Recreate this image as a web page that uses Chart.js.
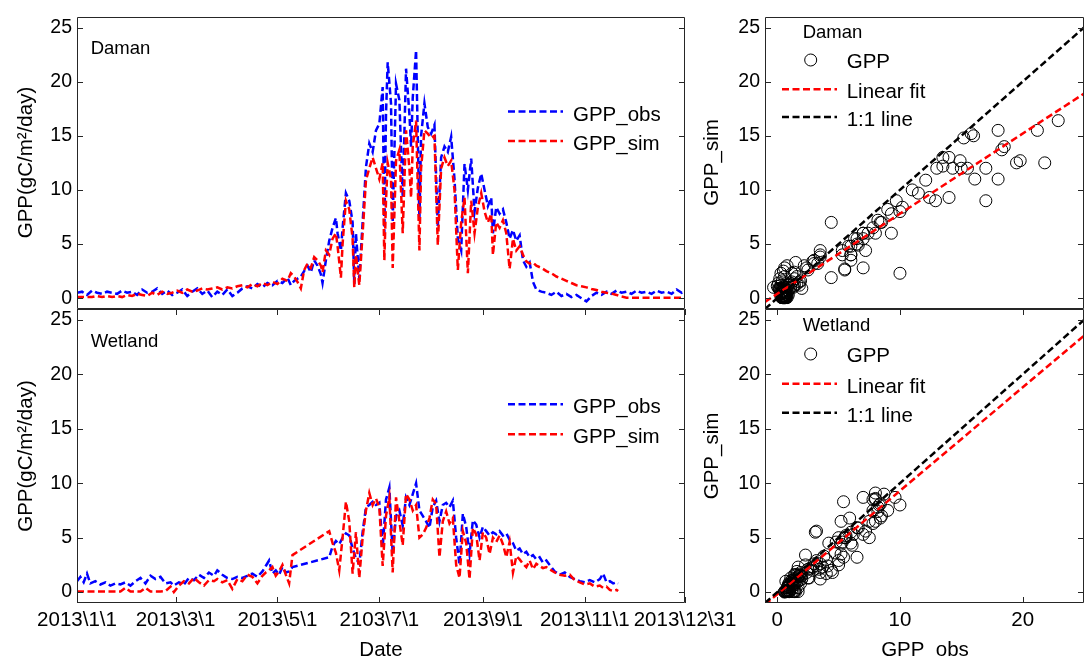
<!DOCTYPE html>
<html><head><meta charset="utf-8">
<script src="https://cdn.jsdelivr.net/npm/chart.js@4.4.1/dist/chart.umd.min.js"></script>
<style>
html,body{margin:0;padding:0;background:#fff;width:1085px;height:656px;overflow:hidden}
canvas{position:absolute;left:0;top:0}
</style></head><body>
<canvas id="c1" width="1085" height="656"></canvas>
<canvas id="c2" width="1085" height="656"></canvas>
<canvas id="c3" width="1085" height="656"></canvas>
<canvas id="c4" width="1085" height="656"></canvas>
<script>
// ---------------- data ----------------
const dayDaman = [0,3,6,9,12,15,18,21,24,27,30,33,36,39,42,45,48,51,54,57,60,63,66,69,72,75,78,81,84,87,90,93,96,99,102,105,108,111,114,117,120,123,126,128,130,
132,134,136,138,140,142,144,146,147,149,151,153,155,156,158,159,161,163,165,166,167,169,171,173,175,177,179,181,183,184,185,186,188,189,191,193,195,197,199,200,201,203,205,206,208,210,212,214,216,218,220,222,224,
226,228,230,232,234,236,238,240,242,244,246,248,249,251,253,255,257,259,261,263,265,267,269,271,273,275,
278,281,284,287,290,293,296,299,302,305,308,311,314,317,320,323,326,329,332,335,338,341,344,347,350,353,356,359,362,364];
const obsDaman = [0.5,0.6,0.3,0.7,0.5,0.4,0.6,0.5,0.4,0.7,0.5,0.6,0.3,0.8,0.5,0.6,0.9,0.4,0.7,0.3,0.5,0.8,0.2,0.6,0.9,0.4,0.7,0.1,0.6,0.3,0.8,0.2,0.5,0.9,1.1,0.9,1.3,1.0,1.4,1.2,1.6,1.4,1.9,1.2,1.6,
1.8,2.0,2.5,3.0,2.4,3.5,3.0,2.2,1.4,3.5,5.3,6.5,7.4,6.0,4.4,6.5,9.7,9.0,7.0,1.3,6.0,1.8,7.0,12.1,14.3,13.5,15.5,16.1,19.5,6.0,17.0,21.8,18.0,7.0,19.8,18.3,9.3,21.2,17.0,14.0,18.5,22.9,7.2,15.0,18.0,15.8,15.2,16.0,6.6,13.0,14.0,13.5,14.9,
11.0,5.5,4.4,12.4,10.0,12.9,8.0,10.2,11.5,10.0,8.5,9.3,6.0,8.4,7.8,8.2,7.0,5.5,6.3,5.3,5.8,3.5,2.9,3.3,1.5,0.8,
0.6,0.5,0.3,0.6,0.2,0.4,0.1,0.3,0.0,-0.3,0.2,0.5,0.3,0.6,0.4,0.7,0.5,0.6,0.4,0.7,0.5,0.6,0.4,0.7,0.5,0.6,0.4,0.8,0.5,0.7];
const simDaman = [0.1,0.1,0.1,0.1,0.2,0.1,0.2,0.1,0.2,0.1,0.3,0.2,0.4,0.3,0.2,0.5,0.3,0.6,0.4,0.5,0.7,0.5,0.8,0.6,0.7,0.9,0.8,0.9,1.0,0.8,1.0,0.9,1.1,1.2,1.0,1.3,1.1,1.4,1.2,1.5,1.3,1.8,1.6,2.3,2.0,
1.5,0.9,2.6,3.2,2.8,3.8,3.5,3.0,2.4,4.4,4.0,5.5,6.0,4.8,1.9,5.0,9.0,8.2,5.5,1.0,4.0,1.2,6.0,10.9,12.0,13.0,12.0,11.0,12.5,3.5,9.0,12.5,11.0,2.8,12.7,13.7,6.0,15.5,12.0,9.3,14.0,16.4,4.4,12.0,15.5,15.2,14.8,15.0,4.9,12.0,13.0,12.2,12.7,
10.0,2.6,7.0,9.3,2.3,9.0,6.0,8.4,9.7,8.0,7.0,7.8,4.0,7.0,6.5,7.2,6.0,2.7,5.5,4.4,4.8,4.0,3.4,3.2,3.3,3.0,
2.8,2.5,2.3,2.0,1.8,1.6,1.4,1.2,1.1,1.0,0.85,0.75,0.6,0.5,0.43,0.3,0.15,0.05,0.05,0.05,0.05,0.05,0.05,0.05,0.05,0.05,0.05,0.05,0.05,0.05];

const dayWetland = [0,2,4,6,8,11,14,17,20,23,26,29,32,35,38,41,44,47,50,53,56,58,61,64,67,70,73,76,79,82,84,87,90,93,96,99,102,105,108,111,113,115,117,119,121,123,125,127,129,
151,153,155,157,159,161,163,165,167,169,171,173,175,177,179,181,183,185,187,189,191,193,195,197,199,201,203,205,207,209,211,213,215,217,219,221,223,225,227,229,231,233,235,237,239,241,243,245,247,249,251,253,255,257,259,261,263,265,267,269,271,273,275,277,279,281,283,
286,289,292,295,298,301,304,307,310,313,315,317,319,321,323,324];
const obsWetland = [1.0,1.4,0.9,1.7,0.8,1.0,0.7,0.9,0.6,0.8,0.7,0.9,0.6,1.0,1.3,0.8,1.5,1.2,1.4,0.8,0.9,0.6,0.9,0.7,1.3,1.1,1.6,1.3,1.8,1.5,2.0,1.6,1.3,1.2,1.4,1.3,1.5,1.7,1.4,1.9,2.4,2.9,1.7,2.0,1.6,2.3,1.8,1.9,2.3,
3.2,4.2,4.7,4.4,5.0,5.4,5.2,4.0,3.1,2.6,5.5,7.8,8.0,8.3,8.0,8.2,4.1,8.5,9.6,3.5,7.0,7.5,6.1,8.7,8.0,9.0,10.0,7.5,7.0,6.5,5.9,7.8,8.4,6.5,8.0,8.2,7.8,8.4,5.0,2.5,7.2,6.0,3.5,6.6,6.2,5.0,6.0,5.6,5.2,5.5,5.3,5.6,5.2,5.4,4.8,4.5,3.8,4.0,3.5,3.7,3.2,3.4,3.0,3.2,2.7,2.9,2.5,
1.9,1.6,1.8,1.4,1.2,1.0,0.9,1.1,0.9,1.2,1.7,0.9,1.0,0.8,0.9,0.8];
const simWetland = [0.05,0.05,0.05,0.05,0.05,0.05,0.05,0.05,0.05,0.05,0.05,0.4,0.05,0.05,0.05,0.4,0.05,0.05,0.05,0.1,0.5,0.0,0.6,1.0,0.8,1.3,0.9,0.6,1.1,1.0,1.2,0.9,1.1,0.3,1.2,1.0,1.6,1.4,0.8,1.5,1.8,2.0,2.3,1.5,1.9,2.5,1.6,0.8,3.4,
5.6,4.5,3.6,2.0,5.0,8.3,6.5,1.7,5.5,1.3,5.0,7.5,9.1,8.0,8.6,7.8,2.4,7.0,8.7,1.8,8.7,6.5,4.3,9.0,8.5,7.5,8.0,5.0,5.3,5.9,6.8,8.5,8.1,3.2,6.5,7.4,6.3,6.8,2.5,1.3,5.6,4.5,1.2,5.9,5.3,2.9,5.5,5.0,3.5,5.0,4.6,5.2,4.4,3.2,4.6,1.8,3.3,3.0,2.6,2.3,2.9,2.1,2.6,2.4,2.2,2.3,2.1,
1.8,1.6,1.5,1.6,1.1,0.9,0.7,0.8,0.5,0.6,0.4,0.5,0.2,0.1,0.2,0.1];

const dateTickDays = [0,59,120,181,243,304,364];
const dateTickLabels = ['2013\\1\\1','2013\\3\\1','2013\\5\\1','2103\\7\\1','2013\\9\\1','2013\\11\\1','2013\\12\\31'];
const gppTicks = [0,5,10,15,20,25];
const gppRange = [-1,26];
const obsTicks = [0,10,20];
const obsRange = [-1,25];
const fitDaman = {slope:0.74, intercept:0.4};
const fitWetland = {slope:0.95, intercept:-0.2};

// ---------------- helpers ----------------
const FONT = "'Liberation Sans', Arial, Helvetica, sans-serif";
Chart.defaults.font.family = FONT;
Chart.defaults.color = '#000';
const AX = '#262626';
const DASH = [7,3.5];

const framePlugin = {
  id: 'frame',
  afterDraw(chart, args, o) {
    const ctx = chart.ctx, a = chart.chartArea;
    const L = Math.round(a.left), R = Math.round(a.right), T = Math.round(a.top), B = Math.round(a.bottom);
    ctx.save();
    ctx.setLineDash([]);
    ctx.strokeStyle = AX; ctx.lineWidth = 1;
    ctx.beginPath();
    ctx.rect(L + 0.5, T + 0.5, R - L - 1, B - T - 1);
    ctx.stroke();
    const tl = 6, ys = chart.scales.y, xs = chart.scales.x;
    ctx.beginPath();
    ys.ticks.forEach(t => {
      const p = Math.round(ys.getPixelForValue(t.value)) + 0.5;
      ctx.moveTo(L, p); ctx.lineTo(L + tl, p);
      ctx.moveTo(R, p); ctx.lineTo(R - tl, p);
    });
    if (o.xTicks) xs.ticks.forEach(t => {
      const p = Math.round(xs.getPixelForValue(t.value)) + 0.5;
      ctx.moveTo(p, B); ctx.lineTo(p, B - tl);
      ctx.moveTo(p, T); ctx.lineTo(p, T + tl);
    });
    ctx.stroke();
    ctx.fillStyle = '#000';
    if (o.site) {
      ctx.font = '18.5px ' + FONT; ctx.textAlign = 'left'; ctx.textBaseline = 'alphabetic';
      ctx.fillText(o.site.text, o.site.x, o.site.y);
    }
    (o.legend || []).forEach(it => {
      ctx.save();
      if (it.kind === 'circle') {
        ctx.strokeStyle = '#000'; ctx.lineWidth = 1; ctx.setLineDash([]);
        ctx.beginPath(); ctx.arc(it.cx, it.y - 7.7, 6, 0, Math.PI * 2); ctx.stroke();
      } else {
        ctx.strokeStyle = it.color; ctx.lineWidth = 2.5; ctx.setLineDash(DASH);
        ctx.beginPath(); ctx.moveTo(it.x0, it.y - 9); ctx.lineTo(it.x1, it.y - 9); ctx.stroke();
      }
      ctx.restore();
      ctx.font = '20.5px ' + FONT; ctx.textAlign = 'left'; ctx.textBaseline = 'alphabetic';
      ctx.fillText(it.text, it.tx, it.y);
    });
    (o.titles || []).forEach(t => {
      ctx.save();
      ctx.font = '20.5px ' + FONT; ctx.textAlign = 'center';
      ctx.translate(t.x, t.y);
      if (t.rot) { ctx.rotate(-Math.PI / 2); ctx.textBaseline = 'middle'; }
      else ctx.textBaseline = 'alphabetic';
      ctx.fillText(t.text, 0, 0);
      ctx.restore();
    });
    ctx.restore();
  }
};

function yScale(width) {
  return {
    type: 'linear', min: gppRange[0], max: gppRange[1],
    afterBuildTicks: s => { s.ticks = gppTicks.map(v => ({value: v})); },
    afterFit: s => { s.width = width; },
    grid: {display: false, drawTicks: false, tickLength: 0}, border: {display: false},
    ticks: {padding: 5, font: {size: 19.5}, color: '#000', callback: v => String(v)}
  };
}
function xScale(range, tickVals, labels, height, show) {
  return {
    type: 'linear', min: range[0], max: range[1],
    afterBuildTicks: s => { s.ticks = tickVals.map(v => ({value: v})); },
    afterFit: s => { s.height = height; },
    grid: {display: false, drawTicks: false, tickLength: 0}, border: {display: false},
    ticks: {display: show, autoSkip: false, maxRotation: 0, minRotation: 0, padding: 5,
            font: {size: 20.5}, color: '#000', callback: (v, i) => labels[i]}
  };
}
function lineDs(label, days, vals, color, order) {
  return {label, data: days.map((d, i) => ({x: d, y: vals[i]})), borderColor: color,
    borderWidth: 2.5, borderDash: DASH, pointRadius: 0, tension: 0, fill: false, order};
}

function tsChart(id, days, obs, sim, top, bottom, site, legY, showX, titles) {
  return new Chart(document.getElementById(id), {
    type: 'line',
    data: {datasets: [lineDs('GPP_sim', days, sim, '#ff0000', 0), lineDs('GPP_obs', days, obs, '#0000ff', 1)]},
    options: {
      responsive: false, animation: false, events: [],
      layout: {autoPadding: false, padding: {left: 0, top: top, right: 400, bottom: 0}},
      scales: {x: xScale([0, 364], dateTickDays, dateTickLabels, 656 - bottom, showX), y: yScale(77)},
      plugins: {legend: {display: false}, tooltip: {enabled: false},
        frame: {xTicks: showX, site: site,
          legend: [
            {kind: 'line', color: '#0000ff', text: 'GPP_obs', x0: 508, x1: 563, tx: 573, y: legY[0]},
            {kind: 'line', color: '#ff0000', text: 'GPP_sim', x0: 508, x1: 563, tx: 573, y: legY[1]}],
          titles: titles}}
    },
    plugins: [framePlugin]
  });
}

function scChart(id, obs, sim, fit, top, bottom, site, legY, showX, titles) {
  const pts = obs.map((v, i) => ({x: v, y: sim[i]}));
  const fitPts = obsRange.map(x => ({x, y: fit.slope * x + fit.intercept}));
  const onePts = obsRange.map(x => ({x, y: x}));
  return new Chart(document.getElementById(id), {
    type: 'scatter',
    data: {datasets: [
      {type: 'line', label: '1:1 line', data: onePts, borderColor: '#000', borderWidth: 2.5, borderDash: DASH, pointRadius: 0, clip: 0, order: 0},
      {type: 'line', label: 'Linear fit', data: fitPts, borderColor: '#ff0000', borderWidth: 2.5, borderDash: DASH, pointRadius: 0, clip: 0, order: 1},
      {label: 'GPP', data: pts, pointRadius: 6, borderWidth: 1, borderColor: '#000', backgroundColor: 'rgba(0,0,0,0)', order: 2}
    ]},
    options: {
      responsive: false, animation: false, events: [],
      layout: {autoPadding: false, padding: {left: 700, top: top, right: 1, bottom: 0}},
      scales: {x: xScale(obsRange, obsTicks, obsTicks.map(String), 656 - bottom, showX), y: yScale(65)},
      plugins: {legend: {display: false}, tooltip: {enabled: false},
        frame: {xTicks: showX, site: site,
          legend: [
            {kind: 'circle', cx: 810.7, text: 'GPP', tx: 846.7, y: legY[0]},
            {kind: 'line', color: '#ff0000', text: 'Linear fit', x0: 782, x1: 837, tx: 846.7, y: legY[1]},
            {kind: 'line', color: '#000', text: '1:1 line', x0: 782, x1: 837, tx: 846.7, y: legY[2]}],
          titles: titles}}
    },
    plugins: [framePlugin]
  });
}

tsChart('c1', dayDaman, obsDaman, simDaman, 16, 309, {text: 'Daman', x: 90.7, y: 54}, [120.5, 150], false,
  [{text: 'GPP(gC/m\u00B2/day)', x: 26, y: 162.5, rot: true}]);
tsChart('c2', dayWetland, obsWetland, simWetland, 309, 603, {text: 'Wetland', x: 90.7, y: 347}, [413.3, 443.3], true,
  [{text: 'GPP(gC/m\u00B2/day)', x: 26, y: 456, rot: true}, {text: 'Date', x: 381, y: 656}]);
scChart('c3', obsDaman, simDaman, fitDaman, 16, 309, {text: 'Daman', x: 802.7, y: 37.5}, [67.7, 98.3, 126], false,
  [{text: 'GPP_sim', x: 712, y: 162.5, rot: true}]);
scChart('c4', obsWetland, simWetland, fitWetland, 309, 603, {text: 'Wetland', x: 802.7, y: 330.7}, [361.7, 392.7, 421.7], true,
  [{text: 'GPP_sim', x: 712, y: 456, rot: true}, {text: 'GPP_obs', x: 925, y: 656}]);
</script>
</body></html>
